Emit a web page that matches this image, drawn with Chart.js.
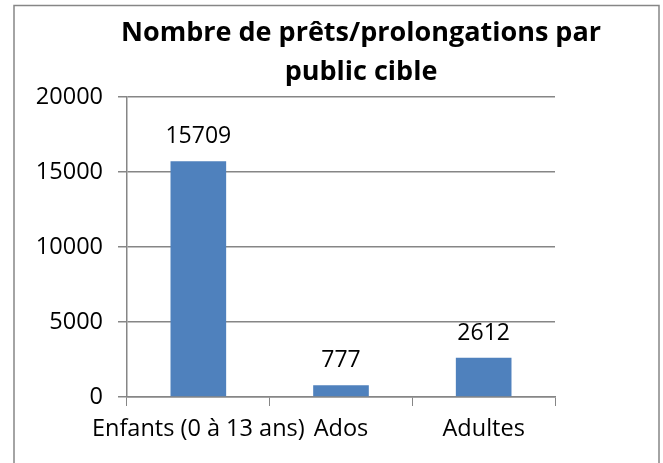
<!DOCTYPE html>
<html>
<head>
<meta charset="utf-8">
<script src="https://cdn.jsdelivr.net/npm/chart.js@4"></script>
<style>
  html, body { margin: 0; padding: 0; background: #fff; }
  #wrap { width: 663px; height: 463px; }
</style>
</head>
<body>
<div id="wrap"><canvas id="pretsChart" width="663" height="463"></canvas></div>
<script>
const categories = ['Enfants (0 à 13 ans)', 'Ados', 'Adultes'];
const prets = [15709, 777, 2612];
const titleLines = ['Nombre de prêts/prolongations par', 'public cible'];

const fontFamily = '"Open Sans", "Liberation Sans", sans-serif';
const gridColor = '#868686';

// fond blanc, cadre gris et titre centré sur le cadre
const framePlugin = {
    id: 'frame',
    beforeDraw(chart) {
        const ctx = chart.ctx;
        ctx.save();
        ctx.fillStyle = '#fff';
        ctx.fillRect(0, 0, chart.width, chart.height);
        ctx.strokeStyle = gridColor;
        ctx.lineWidth = 1.5;
        ctx.strokeRect(14, 5.5, 645, 462);
        ctx.fillStyle = '#000';
        ctx.font = 'bold 27px ' + fontFamily;
        ctx.textAlign = 'center';
        ctx.textBaseline = 'middle';
        ctx.fillText(titleLines[0], 361, 33);
        ctx.fillText(titleLines[1], 361, 72);
        ctx.restore();
    }
};

// valeurs au-dessus des barres
const valueLabels = {
    id: 'valueLabels',
    afterDatasetsDraw(chart) {
        const ctx = chart.ctx;
        ctx.save();
        ctx.font = '23px ' + fontFamily;
        ctx.fillStyle = '#000';
        ctx.textAlign = 'center';
        ctx.textBaseline = 'alphabetic';
        chart.getDatasetMeta(0).data.forEach((bar, i) => {
            ctx.fillText(String(prets[i]), bar.x, bar.y - 18);
        });
        ctx.restore();
    }
};

const ctx = document.getElementById('pretsChart').getContext('2d');

new Chart(ctx, {
    type: 'bar',
    data: {
        labels: categories,
        datasets: [{
            data: prets,
            backgroundColor: '#4F81BD',
            borderWidth: 0,
            barPercentage: 0.39,
            categoryPercentage: 1
        }]
    },
    options: {
        responsive: false,
        animation: false,
        layout: { padding: { left: 0, right: 108, top: 97, bottom: 0 } },
        plugins: {
            legend: { display: false },
            tooltip: { enabled: false },
            title: { display: false }
        },
        scales: {
            x: {
                grid: {
                    display: true,
                    drawOnChartArea: false,
                    drawTicks: true,
                    tickLength: 9,
                    tickColor: gridColor
                },
                border: { color: gridColor, width: 1.5 },
                ticks: {
                    color: '#000',
                    font: { family: fontFamily, size: 23.5 },
                    padding: 9,
                    maxRotation: 0,
                    autoSkip: false
                },
                afterFit(scale) { scale.height = 66; }
            },
            y: {
                min: 0,
                max: 20000,
                ticks: {
                    stepSize: 5000,
                    color: '#000',
                    font: { family: fontFamily, size: 23.5 },
                    padding: 15,
                    callback: v => String(v)
                },
                grid: {
                    color: gridColor,
                    lineWidth: 1.5,
                    tickLength: 9,
                    tickColor: gridColor
                },
                border: { color: gridColor, width: 1.5 },
                afterFit(scale) { scale.width = 127; }
            }
        }
    },
    plugins: [framePlugin, valueLabels]
});
</script>
</body>
</html>
